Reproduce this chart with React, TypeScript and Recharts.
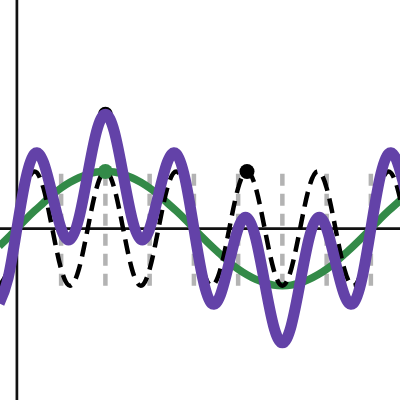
import React from 'react';
import { ComposedChart, Line, Scatter, XAxis, YAxis, ReferenceLine } from 'recharts';

// sample positions along the x axis (radians)
const tValues = [
  -0.314, -0.157, 0, 0.157, 0.314, 0.471, 0.628, 0.785, 0.942, 1.1, 1.257, 1.414, 1.571, 1.728, 1.885, 2.042,
  2.199, 2.356, 2.513, 2.67, 2.827, 2.985, 3.142, 3.299, 3.456, 3.613, 3.77, 3.927, 4.084, 4.241, 4.398, 4.555,
  4.712, 4.869, 5.027, 5.184, 5.341, 5.498, 5.655, 5.812, 5.969, 6.126, 6.283, 6.44, 6.597, 6.754, 6.912,
];

// slow green wave
const greenValues = [
  -0.31, -0.16, 0, 0.16, 0.31, 0.45, 0.59, 0.71, 0.81, 0.89, 0.95, 0.99, 1, 0.99, 0.95, 0.89,
  0.81, 0.71, 0.59, 0.45, 0.31, 0.16, 0, -0.16, -0.31, -0.45, -0.59, -0.71, -0.81, -0.89, -0.95, -0.99,
  -1, -0.99, -0.95, -0.89, -0.81, -0.71, -0.59, -0.45, -0.31, -0.16, 0, 0.16, 0.31, 0.45, 0.59,
];

// fast black dashed wave
const blackValues = [
  -1, -0.71, 0, 0.71, 1, 0.71, 0, -0.71, -1, -0.71, 0, 0.71, 1, 0.71, 0, -0.71,
  -1, -0.71, 0, 0.71, 1, 0.71, 0, -0.71, -1, -0.71, 0, 0.71, 1, 0.71, 0, -0.71,
  -1, -0.71, 0, 0.71, 1, 0.71, 0, -0.71, -1, -0.71, 0, 0.71, 1, 0.71, 0,
];

// purple combined wave
const purpleValues = [
  -1.31, -0.87, 0, 0.87, 1.31, 1.16, 0.59, 0, -0.19, 0.18, 0.95, 1.7, 2, 1.7, 0.95, 0.18,
  -0.19, 0, 0.59, 1.16, 1.31, 0.87, 0, -0.87, -1.31, -1.16, -0.59, 0, 0.19, -0.18, -0.95, -1.7,
  -2, -1.7, -0.95, -0.18, 0.19, 0, -0.59, -1.16, -1.31, -0.87, 0, 0.87, 1.31, 1.16, 0.59,
];

// gray dashed stems
const stemPositions = [0.785, 1.571, 2.356, 3.142, 3.927, 4.712, 5.498, 6.283];

const greenMarkers = [{ t: 1.571, v: 1 }];
const blackMarkers = [
  { t: 1.571, v: 2 },
  { t: 4.084, v: 1 },
];

const rows = tValues.map((t, i) => ({
  t,
  green: greenValues[i],
  black: blackValues[i],
  purple: purpleValues[i],
}));

const dotShape = (fill: string) => (props: any) => (
  <circle cx={props.cx} cy={props.cy} r={7.5} fill={fill} />
);

export default function App() {
  return (
    <div style={{ width: 400, height: 400 }}>
      <style>{'body { margin: 0; }'}</style>
      <ComposedChart width={400} height={400} data={rows} margin={{ top: 0, right: 0, bottom: 0, left: 0 }}>
        <XAxis dataKey="t" type="number" domain={[-0.3, 6.8]} allowDataOverflow hide />
        <YAxis type="number" domain={[-3, 4]} allowDataOverflow hide />

        {stemPositions.map((t) => (
          <ReferenceLine
            key={`stem-${t}`}
            segment={[{ x: t, y: -1 }, { x: t, y: 1 }]}
            stroke="#b3b3b3"
            strokeWidth={4.5}
            strokeDasharray="12 8"
            zIndex={50}
          />
        ))}
        <ReferenceLine y={0} stroke="#111111" strokeWidth={2.7} zIndex={60} />
        <ReferenceLine x={0} stroke="#111111" strokeWidth={2.7} zIndex={60} />

        <Line
          type="natural"
          dataKey="green"
          stroke="#338a48"
          strokeWidth={7.5}
          dot={false}
          activeDot={false}
          isAnimationActive={false}
          zIndex={100}
        />
        <Line
          type="natural"
          dataKey="black"
          stroke="#000000"
          strokeWidth={4.5}
          strokeDasharray="15 8"
          dot={false}
          activeDot={false}
          isAnimationActive={false}
          zIndex={120}
        />
        <Scatter data={greenMarkers} dataKey="v" shape={dotShape('#338a48')} isAnimationActive={false} zIndex={125} />
        <Scatter data={blackMarkers} dataKey="v" shape={dotShape('#000000')} isAnimationActive={false} zIndex={130} />
        <Line
          type="natural"
          dataKey="purple"
          stroke="#6342a8"
          strokeWidth={11}
          dot={false}
          activeDot={false}
          isAnimationActive={false}
          zIndex={140}
        />
      </ComposedChart>
    </div>
  );
}
